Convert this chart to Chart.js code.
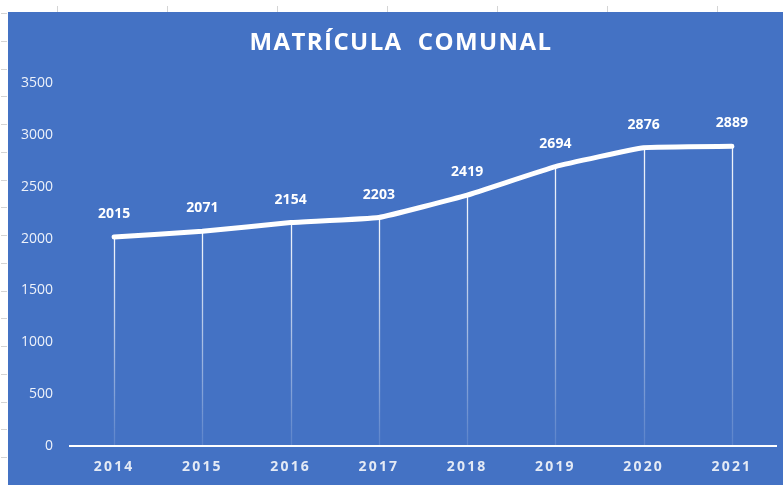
<!DOCTYPE html>
<html>
<head>
<meta charset="utf-8">
<script src="https://cdn.jsdelivr.net/npm/chart.js@4/dist/chart.umd.min.js"></script>
<style>
  html, body { margin: 0; padding: 0; background: #ffffff; width: 783px; height: 485px; overflow: hidden; }
  #wrap { position: absolute; left: 8px; top: 12px; width: 775px; height: 473px; background: #4472C4; }
  #c { display: block; }
  .tk { position: absolute; background: #d4d4d4; }
</style>
</head>
<body>
<div id="marks"></div>
<div id="wrap"><canvas id="c" width="775" height="473" style="width:775px;height:473px"></canvas></div>
<script>
// ---- data ----
const titleText = 'MATRÍCULA  COMUNAL';
const years = ['2014', '2015', '2016', '2017', '2018', '2019', '2020', '2021'];
const enrolment = [2015, 2071, 2154, 2203, 2419, 2694, 2876, 2889];
const yTicks = [0, 500, 1000, 1500, 2000, 2500, 3000, 3500];

// spreadsheet cell marks around the pasted chart
(function () {
  const m = document.getElementById('marks');
  for (let i = 0; i < 18; i++) {
    const d = document.createElement('div');
    d.className = 'tk';
    d.style.cssText = 'left:1px;width:6px;height:1px;top:' + Math.round(13 + i * 27.75) + 'px';
    m.appendChild(d);
  }
  for (let i = 0; i < 7; i++) {
    const d = document.createElement('div');
    d.className = 'tk';
    d.style.cssText = 'top:6px;height:6px;width:1px;left:' + Math.round(57 + i * 110) + 'px';
    m.appendChild(d);
  }
})();

const FONT = "'Open Sans', 'Liberation Sans', sans-serif";

const dropLines = {
  id: 'dropLines',
  beforeDatasetsDraw(chart) {
    const ctx = chart.ctx;
    const meta = chart.getDatasetMeta(0);
    const y0 = chart.scales.y.getPixelForValue(0);
    ctx.save();
    meta.data.forEach(pt => {
      const g = ctx.createLinearGradient(0, pt.y, 0, y0);
      g.addColorStop(0, 'rgba(255,255,255,0.95)');
      g.addColorStop(0.45, 'rgba(255,255,255,0.6)');
      g.addColorStop(1, 'rgba(255,255,255,0.12)');
      ctx.strokeStyle = g;
      ctx.lineWidth = 1.3;
      ctx.beginPath();
      ctx.moveTo(Math.round(pt.x) + 0.5, pt.y);
      ctx.lineTo(Math.round(pt.x) + 0.5, y0);
      ctx.stroke();
    });
    ctx.restore();
  }
};

const valueLabels = {
  id: 'valueLabels',
  afterDatasetsDraw(chart) {
    const ctx = chart.ctx;
    const meta = chart.getDatasetMeta(0);
    const vals = chart.data.datasets[0].data;
    ctx.save();
    ctx.font = 'bold 14px ' + FONT;
    ctx.fillStyle = '#ffffff';
    ctx.textAlign = 'center';
    ctx.textBaseline = 'middle';
    meta.data.forEach((pt, i) => {
      ctx.fillText(String(vals[i]), pt.x, pt.y - 23);
    });
    ctx.restore();
  }
};

// letter spacing for x labels and title
const spacing = {
  id: 'spacing',
  beforeLayout(chart) {
    const wrap = (obj, sp, dx) => {
      if (!obj || obj._spWrapped) return;
      const orig = obj.draw;
      obj.draw = function (a) {
        const ctx = this.ctx;
        ctx.save();
        ctx.letterSpacing = sp;
        ctx.translate(dx, 0);
        orig.call(this, a);
        ctx.restore();
      };
      obj._spWrapped = true;
    };
    wrap(chart.scales.x, '2.2px', 0);
    wrap(chart.titleBlock, '1.4px', 9);
  }
};

new Chart(document.getElementById('c'), {
  type: 'line',
  data: {
    labels: years,
    datasets: [{
      data: enrolment,
      borderColor: '#ffffff',
      borderWidth: 5,
      tension: 0.1,
      pointRadius: 0,
      pointHoverRadius: 0,
      borderCapStyle: 'round',
      borderJoinStyle: 'round',
      fill: false
    }]
  },
  options: {
    responsive: false,
    animation: false,
    events: [],
    layout: { padding: { left: 0, right: 7, top: 0, bottom: 0 } },
    plugins: {
      legend: { display: false },
      tooltip: { enabled: false },
      title: {
        display: true,
        text: titleText,
        color: '#ffffff',
        font: { family: FONT, size: 24, weight: 'bold', lineHeight: 1.2 },
        padding: { top: 17, bottom: 25.2 }
      }
    },
    scales: {
      x: {
        offset: true,
        grid: { display: false, drawTicks: false },
        border: { display: true, color: '#ffffff', width: 2 },
        ticks: { color: '#e4eaf5', padding: 13, font: { family: FONT, size: 14, weight: 'bold' } },
        afterFit(s) { s.height = 39; }
      },
      y: {
        min: 0,
        max: 3500,
        afterBuildTicks(s) { s.ticks = yTicks.map(v => ({ value: v })); },
        grid: { display: false, drawTicks: false },
        border: { display: false },
        ticks: {
          color: '#eef2fa', padding: 17, font: { family: FONT, size: 14 },
          callback: (v) => String(v)
        },
        afterFit(s) { s.width = 62; }
      }
    }
  },
  plugins: [dropLines, valueLabels, spacing]
});
</script>
</body>
</html>
